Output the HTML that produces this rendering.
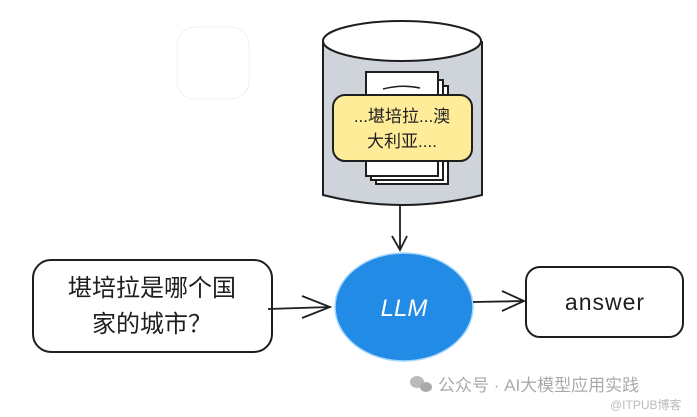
<!DOCTYPE html>
<html><head><meta charset="utf-8"><style>
html,body{margin:0;padding:0;background:#fff;}
svg{display:block;}
text{font-family:"Liberation Sans","Noto Sans CJK SC",sans-serif;}
</style></head><body>
<svg width="697" height="417" viewBox="0 0 697 417" xmlns="http://www.w3.org/2000/svg">
<rect x="177" y="27" width="72" height="72" rx="18" fill="none" stroke="#f0f0f0" stroke-width="1"/>
<!-- cylinder -->
<path d="M323 41 L323 195 Q402 215 482 195 L482 41" fill="#ced4da" stroke="#1e1e1e" stroke-width="2"/>
<ellipse cx="402" cy="41" rx="79" ry="20" fill="#fff" stroke="#1e1e1e" stroke-width="2"/>
<!-- papers -->
<rect x="376" y="86" width="72" height="98" fill="#fff" stroke="#1e1e1e" stroke-width="2"/>
<rect x="371" y="80" width="72" height="100" fill="#fff" stroke="#1e1e1e" stroke-width="2"/>
<rect x="366" y="72" width="72" height="104" fill="#fff" stroke="#1e1e1e" stroke-width="2"/>
<path d="M383 89 Q402 84 420 88" fill="none" stroke="#1e1e1e" stroke-width="1.5"/>
<rect x="333" y="95" width="139" height="66" rx="12" fill="#ffec99" stroke="#1e1e1e" stroke-width="2"/>
<text x="402" y="122" font-size="17" text-anchor="middle" fill="#1e1e1e">...堪培拉...澳</text>
<text x="402" y="147" font-size="17" text-anchor="middle" fill="#1e1e1e">大利亚....</text>
<!-- arrow down -->
<path d="M400 205 L400 250 M392 236 L400 250 L407 236" fill="none" stroke="#1e1e1e" stroke-width="1.8"/>
<!-- LLM -->
<ellipse cx="404" cy="307" rx="69" ry="54" fill="#228be6" stroke="#a5d8ff" stroke-width="1.5"/>
<text x="404" y="316" font-size="24" font-style="italic" text-anchor="middle" fill="#fff" font-family="Liberation Sans">LLM</text>
<!-- left box -->
<rect x="33" y="260" width="239" height="92" rx="18" fill="#fff" stroke="#1e1e1e" stroke-width="2"/>
<text x="152" y="296" font-size="24" text-anchor="middle" fill="#1e1e1e">堪培拉是哪个国</text>
<text x="152" y="332" font-size="24" text-anchor="middle" fill="#1e1e1e">家的城市？</text>
<path d="M268 309 L330 307 M302 296 L330 307 L302 318" fill="none" stroke="#1e1e1e" stroke-width="1.8"/>
<!-- answer -->
<path d="M473 302 L524 301 M502 291 L524 301 L502 311" fill="none" stroke="#1e1e1e" stroke-width="1.8"/>
<rect x="526" y="267" width="157" height="70" rx="14" fill="#fff" stroke="#1e1e1e" stroke-width="2"/>
<text x="605" y="310" font-size="23" text-anchor="middle" fill="#1e1e1e" letter-spacing="1">answer</text>
<!-- watermark -->
<ellipse cx="417" cy="382" rx="7" ry="6" fill="#bbb"/>
<ellipse cx="426" cy="387" rx="6" ry="5" fill="#aaa"/>
<text x="438" y="391" font-size="17" fill="#aaa">公众号 · AI大模型应用实践</text>
<text x="610" y="409" font-size="12" fill="#bbb">@ITPUB博客</text>
</svg>
</body></html>
